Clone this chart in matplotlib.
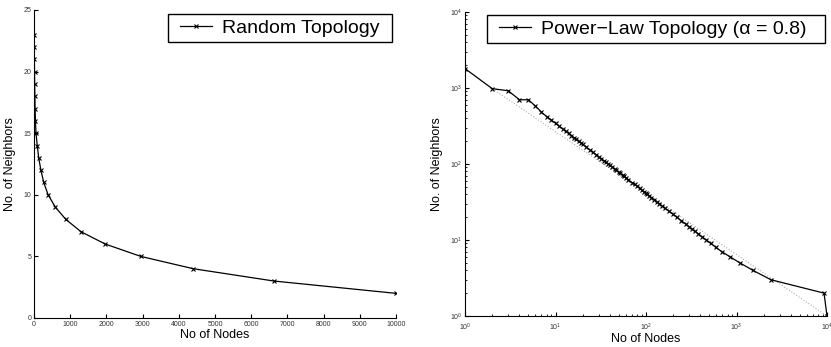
import matplotlib
matplotlib.use("Agg")
import matplotlib.pyplot as plt
from matplotlib.path import Path

plt.rcParams['font.family'] = ['Liberation Sans', 'DejaVu Sans']

# Random topology: number of neighbors vs number of nodes
rand_nodes = [10000, 6630, 4400, 2950, 1970, 1300, 880, 590, 390, 270, 190,
              130, 90, 55, 40, 30, 25, 18, 15, 10, 7, 5]
rand_neighbors = [2, 3, 4, 5, 6, 7, 8, 9, 10, 11, 12,
                  13, 14, 15, 16, 17, 18, 19, 20, 21, 22, 23]

# Power-law topology (alpha = 0.8), log-log
pl_nodes = [1, 2, 3, 4, 5, 6, 7, 8, 9, 10, 11, 12, 13, 14, 15, 16, 17, 18, 19, 20,
            22, 24, 26, 28, 30, 32, 34, 36, 38, 40, 42, 45, 47, 50, 52, 55, 57, 60,
            64, 70, 75, 80, 85, 90, 95, 100, 103, 109, 115, 123, 131, 140, 151, 164,
            179, 197, 218, 245, 278, 298, 322, 349, 380, 418, 464, 520, 591, 690,
            850, 1090, 1510, 2400, 9270, 10000]
pl_neighbors = [1800, 980, 920, 700, 700, 580, 480, 421, 378, 343, 314, 290, 269, 252,
                236, 223, 211, 200, 190, 181, 166, 153, 142, 133, 125, 118, 111, 106,
                100, 96, 92, 86, 83, 78, 75, 71, 69, 66, 62, 57, 54, 51, 48, 45, 43,
                41, 40, 38, 36, 34, 32, 30, 28, 26, 24, 22, 20, 18, 16, 15, 14, 13,
                12, 11, 10, 9, 8, 7, 6, 5, 4, 3, 2, 1]

# dotted reference line
ref_nodes = [2, 10000]
ref_neighbors = [980, 1]


def wide_box(left, right):
    # legend frame with extra room left/right (pixels)
    def style(x0, y0, width, height, mutation_size):
        xa, xb = x0 - left, x0 + width + right
        return Path([(xa, y0), (xb, y0), (xb, y0 + height), (xa, y0 + height), (xa, y0)],
                    closed=True)
    return style


fig = plt.figure(figsize=(8.31, 3.47), dpi=100)
ax1 = fig.add_axes([34 / 831, 1 - 318 / 347, 362 / 831, 308 / 347])
ax2 = fig.add_axes([465 / 831, 1 - 316 / 347, 362 / 831, 304 / 347])

ax1.plot(rand_nodes, rand_neighbors, color='black', lw=0.9, marker='x',
         ms=3, mew=0.8, label='Random Topology')
ax1.set_xlim(0, 10000)
ax1.set_ylim(0, 25)
ax1.set_xticks(range(0, 10001, 1000))
ax1.set_yticks(range(0, 26, 5))
ax1.set_xlabel('No of Nodes', fontsize=9, labelpad=1)
ax1.set_ylabel('No. of Neighbors', fontsize=9, labelpad=5)
leg1 = ax1.legend(loc='upper right', bbox_to_anchor=(1 - 0.0298, 1 - 0.013), borderaxespad=0,
                  fontsize=14, fancybox=False, edgecolor='black', framealpha=1,
                  borderpad=0.27, handlelength=1.65, handletextpad=0.55)
leg1.get_frame().set_boxstyle(wide_box(6.8, 6.8))

ax2.plot(ref_nodes, ref_neighbors, color='#9a9a9a', lw=0.7, ls=(0, (1, 2)))
ax2.plot(pl_nodes, pl_neighbors, color='black', lw=0.9, marker='x',
         ms=3, mew=0.8, label='Power\u2212Law Topology (\u03b1 = 0.8)')
ax2.set_xscale('log')
ax2.set_yscale('log')
ax2.set_xlim(1, 10000)
ax2.set_ylim(1, 10000)
ax2.set_xlabel('No of Nodes', fontsize=9, labelpad=0)
ax2.set_ylabel('No. of Neighbors', fontsize=9, labelpad=5)
leg2 = ax2.legend(loc='upper right', bbox_to_anchor=(1 - 0.0409, 1 - 0.0099), borderaxespad=0,
                  fontsize=14, fancybox=False, edgecolor='black', framealpha=1,
                  borderpad=0.27, handlelength=1.65, handletextpad=0.55)
leg2.get_frame().set_boxstyle(wide_box(6.8, 12.8))

for ax in (ax1, ax2):
    ax.spines['top'].set_visible(False)
    ax.spines['right'].set_visible(False)
    ax.spines['left'].set_linewidth(0.8)
    ax.spines['bottom'].set_linewidth(0.8)
    ax.tick_params(which='both', direction='in', labelsize=5, pad=2)
    ax.tick_params(which='major', length=3)
    ax.tick_params(which='minor', length=1.5)
    for lab in ax.get_xticklabels() + ax.get_yticklabels():
        lab.set_color('#333333')
ax2.tick_params(axis='x', which='both', pad=4)

fig.savefig('out.png', dpi=100)
